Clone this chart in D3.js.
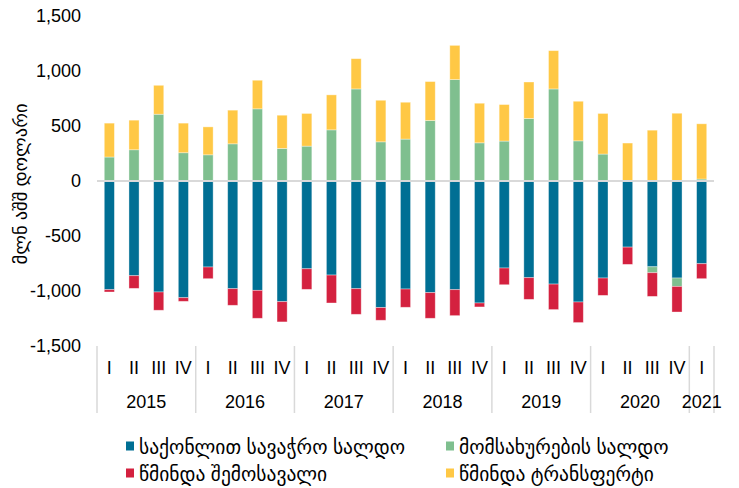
<!DOCTYPE html>
<html>
<head>
<meta charset="utf-8">
<script src="https://cdn.jsdelivr.net/npm/d3@7"></script>
<style>
  body { margin: 0; background: #fff; }
  svg text { font-family: "Liberation Sans", Arial, "DejaVu Sans", sans-serif; fill: #000; }
</style>
</head>
<body>
<svg id="chart" width="739" height="488"></svg>
<script>
// data (mln USD), 2015 Q1 - 2021 Q1
var quarters = ["I","II","III","IV","I","II","III","IV","I","II","III","IV","I","II","III","IV",
                "I","II","III","IV","I","II","III","IV","I"];
var years = ["2015","2016","2017","2018","2019","2020","2021"];
var goods     = [-988,-861,-1009,-1061,-782,-979,-994,-1097,-798,-855,-979,-1151,-982,-1015,-988,-1109,-791,-879,-937,-1100,-882,-601,-780,-882,-752];
var services  = [218,284,607,257,238,338,656,296,317,465,837,356,381,550,922,347,363,568,837,365,245,3,-54,-76,18];
var income    = [-21,-115,-166,-33,-106,-151,-254,-184,-187,-254,-233,-115,-166,-233,-236,-36,-152,-197,-232,-187,-158,-157,-215,-233,-136];
var transfers = [308,269,263,269,254,306,260,302,297,318,275,378,335,354,311,360,332,332,348,360,369,342,462,616,502];
var yTicks = [-1500,-1000,-500,0,500,1000,1500];

var seriesNames = ["საქონლით სავაჭრო სალდო","მომსახურების სალდო","წმინდა შემოსავალი","წმინდა ტრანსფერტი"];
var colors = ["#006F94","#7FBF8F","#D4213F","#FFC845"];

var rows = quarters.map(function(q, i) {
  return {i: i, s0: goods[i], s1: services[i], s2: income[i], s3: transfers[i]};
});

var svg = d3.select("#chart");
var plotLeft = 97, plotRight = 714, plotTop = 16, plotBottom = 346;

var x = d3.scaleBand()
    .domain(d3.range(quarters.length))
    .range([plotLeft, plotRight])
    .paddingInner(0.59)
    .paddingOuter(0.295);

var y = d3.scaleLinear()
    .domain([-1500, 1500])
    .range([plotBottom, plotTop]);

var loc = d3.formatLocale({decimal: ".", thousands: ",", grouping: [3], currency: ["$", ""], minus: "-"});
var fmt = loc.format(",");

// y labels
svg.append("g").selectAll("text")
    .data(yTicks)
  .enter().append("text")
    .attr("x", 81)
    .attr("y", function(d) { return y(d); })
    .attr("dy", "0.35em")
    .attr("text-anchor", "end")
    .style("font-size", "18px")
    .text(function(d) { return fmt(d); });

// y title
svg.append("text")
    .attr("transform", "translate(27," + (y(0) + 3) + ") rotate(-90)")
    .attr("text-anchor", "middle")
    .style("font-size", "18.5px")
    .text("მლნ აშშ დოლარი");

// stacked bars
var stack = d3.stack()
    .keys(["s0","s1","s2","s3"])
    .offset(d3.stackOffsetDiverging);
var layers = stack(rows);

svg.append("g").selectAll("g")
    .data(layers)
  .enter().append("g")
    .attr("fill", function(d, k) { return colors[k]; })
  .selectAll("rect")
    .data(function(d) { return d; })
  .enter().append("rect")
    .attr("x", function(d) { return x(d.data.i); })
    .attr("width", x.bandwidth())
    .attr("y", function(d) { return y(Math.max(d[0], d[1])); })
    .attr("height", function(d) { return Math.abs(y(d[0]) - y(d[1])); })
    .attr("stroke", "#fff")
    .attr("stroke-opacity", 0.45)
    .attr("stroke-width", 0.8);

// zero line
svg.append("line")
    .attr("x1", plotLeft).attr("x2", plotRight)
    .attr("y1", y(0)).attr("y2", y(0))
    .attr("stroke", "#d9d9d9")
    .attr("stroke-width", 2);

// category axis
var step = x.step();
var sepIdx = [0,4,8,12,16,20,24,25];
svg.append("g").selectAll("line")
    .data(sepIdx)
  .enter().append("line")
    .attr("x1", function(d) { return plotLeft + d * step; })
    .attr("x2", function(d) { return plotLeft + d * step; })
    .attr("y1", 346).attr("y2", 413)
    .attr("stroke", "#d9d9d9")
    .attr("stroke-width", 1.5);

svg.append("g").selectAll("text")
    .data(quarters)
  .enter().append("text")
    .attr("x", function(d, i) { return x(i) + x.bandwidth() / 2; })
    .attr("y", 368)
    .attr("dy", "0.35em")
    .attr("text-anchor", "middle")
    .style("font-size", "18px")
    .text(function(d) { return d; });

svg.append("g").selectAll("text")
    .data(years)
  .enter().append("text")
    .attr("x", function(d, k) {
      var a = k * 4, b = Math.min(a + 4, quarters.length);
      return plotLeft + (a + b) / 2 * step;
    })
    .attr("y", 402)
    .attr("dy", "0.35em")
    .attr("text-anchor", "middle")
    .style("font-size", "18px")
    .text(function(d) { return d; });

// legend
var legPos = [[126, 446], [446, 446], [126, 473], [446, 473]];
var leg = svg.append("g").selectAll("g")
    .data(seriesNames)
  .enter().append("g")
    .attr("transform", function(d, k) { return "translate(" + legPos[k][0] + "," + legPos[k][1] + ")"; });
leg.append("rect")
    .attr("x", 0).attr("y", -4.5)
    .attr("width", 8).attr("height", 9)
    .attr("fill", function(d, k) { return colors[k]; });
leg.append("text")
    .attr("x", 13)
    .attr("dy", "0.4em")
    .style("font-size", "19.5px")
    .text(function(d) { return d; });
</script>
</body>
</html>
